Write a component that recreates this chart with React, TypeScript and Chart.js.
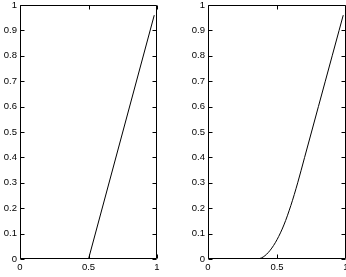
import React, { useEffect, useRef } from "react";
import { Chart, registerables } from "chart.js";
Chart.register(...registerables);

const xTickValues = [0, 0.5, 1];
const yTickValues = [0, 0.1, 0.2, 0.3, 0.4, 0.5, 0.6, 0.7, 0.8, 0.9, 1];

const leftX = [0, 0.5, 0.98];
const leftY = [0, 0, 0.96];

const rightX = [0, 0.35, 0.4, 0.45, 0.5, 0.55, 0.6, 0.65, 0.7, 0.75, 0.8, 0.85, 0.9, 0.95, 0.98];
const rightY = [0, 0, 0.008, 0.034, 0.076, 0.134, 0.21, 0.3, 0.4, 0.5, 0.6, 0.7, 0.8, 0.9, 0.96];

const FONT = { family: "'Liberation Sans', Arial, Helvetica, sans-serif", size: 9.5 };

const boxPlugin = {
  id: "boxTicks",
  afterDatasetsDraw(chart: any) {
    const { ctx, chartArea, scales } = chart;
    const { left, right, top, bottom } = chartArea;
    const x = scales.x;
    const y = scales.y;
    const L = Math.round(left) + 0.5;
    const R = Math.round(right) - 0.5;
    const T = Math.round(top) + 0.5;
    const B = Math.round(bottom) - 0.5;
    const tl = 4;
    ctx.save();
    ctx.strokeStyle = "#000";
    ctx.lineWidth = 1;
    ctx.beginPath();
    ctx.rect(L, T, R - L, B - T);
    for (const v of xTickValues) {
      const px = Math.round(x.getPixelForValue(v)) + 0.5;
      ctx.moveTo(px, B);
      ctx.lineTo(px, B - tl);
      ctx.moveTo(px, T);
      ctx.lineTo(px, T + tl);
    }
    for (const v of yTickValues) {
      const py = Math.round(y.getPixelForValue(v)) + 0.5;
      ctx.moveTo(L, py);
      ctx.lineTo(L + tl, py);
      ctx.moveTo(R, py);
      ctx.lineTo(R - tl, py);
    }
    ctx.stroke();
    ctx.restore();
  },
};

type PanelProps = {
  xs: number[];
  ys: number[];
  left: number;
  width: number;
  yAxisWidth: number;
  padRight: number;
  smooth: boolean;
};

function Panel({ xs, ys, left, width, yAxisWidth, padRight, smooth }: PanelProps) {
  const ref = useRef<HTMLCanvasElement | null>(null);
  useEffect(() => {
    if (!ref.current) return;
    const chart = new Chart(ref.current, {
      type: "scatter",
      data: {
        datasets: [
          {
            data: xs.map((v, i) => ({ x: v, y: ys[i] })),
            showLine: true,
            borderColor: "#000",
            borderWidth: 1,
            pointRadius: 0,
            tension: smooth ? 0.4 : 0,
            cubicInterpolationMode: smooth ? "monotone" : "default",
          } as any,
        ],
      },
      options: {
        animation: false,
        responsive: false,
        maintainAspectRatio: false,
        layout: { padding: { left: 0, right: padRight, top: 5, bottom: 0 } },
        plugins: { legend: { display: false }, tooltip: { enabled: false } },
        scales: {
          x: {
            type: "linear",
            min: 0,
            max: 1,
            border: { display: false },
            grid: { display: false, drawTicks: false },
            afterBuildTicks: (s: any) => {
              s.ticks = xTickValues.map((v) => ({ value: v }));
            },
            afterFit: (s: any) => {
              s.height = 18;
              s.paddingLeft = 0;
              s.paddingRight = 0;
            },
            ticks: {
              padding: 3,
              color: "#000",
              font: FONT,
              maxRotation: 0,
              callback: (v: any) => String(v),
            },
          },
          y: {
            type: "linear",
            min: 0,
            max: 1,
            border: { display: false },
            grid: { display: false, drawTicks: false },
            afterBuildTicks: (s: any) => {
              s.ticks = yTickValues.map((v) => ({ value: v }));
            },
            afterFit: (s: any) => {
              s.width = yAxisWidth;
              s.paddingTop = 0;
              s.paddingBottom = 0;
            },
            ticks: {
              padding: 3,
              color: "#000",
              font: FONT,
              callback: (v: any) => String(v),
            },
          },
        },
      } as any,
      plugins: [boxPlugin],
    });
    return () => chart.destroy();
  }, []);
  return (
    <canvas
      ref={ref}
      width={width}
      height={277}
      style={{ position: "absolute", left, top: 0, width, height: 277 }}
    />
  );
}

export default function App() {
  return (
    <div style={{ position: "fixed", left: 0, top: 0, width: 346, height: 277, background: "#fff" }}>
      <Panel xs={leftX} ys={leftY} left={0} width={175} yAxisWidth={20} padRight={18} smooth={false} />
      <Panel xs={rightX} ys={rightY} left={175} width={171} yAxisWidth={33} padRight={0} smooth={true} />
    </div>
  );
}
